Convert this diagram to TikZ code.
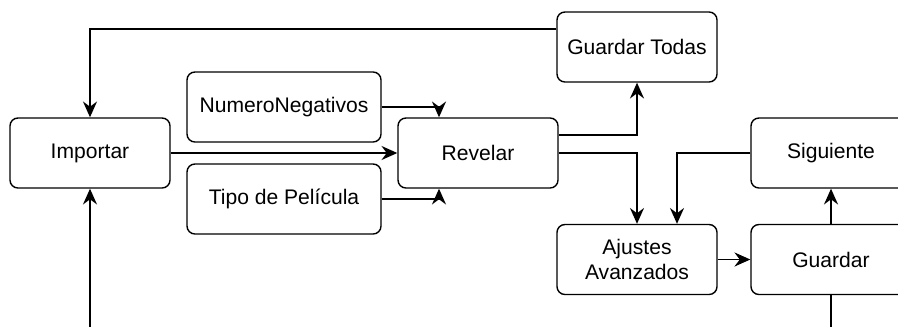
\documentclass[tikz,border=0pt]{standalone}
\usepackage{fontspec}
\setmainfont{Liberation Sans}
\usetikzlibrary{arrows.meta}

\begin{document}
\begin{tikzpicture}[-{Stealth[length=9pt,width=8pt,inset=3pt]}, line width=0.8pt,
    box/.style={draw, rounded corners=4.5pt, minimum width=3.2cm, minimum height=1.4cm,
        align=center, font=\fontsize{12}{14}\selectfont},
    hv/.style={to path={-| (\tikztotarget)}}]
            \useasboundingbox (-1.8,-3.46) rectangle (16.16,3.06);
            \clip (-1.8,-3.46) rectangle (16.16,3.06);

            \node[box] (1) {Importar};
            \node[box, minimum width=3.88cm] (2) [right of=1, node distance=3.88cm, yshift=0.92cm] {NumeroNegativos};
            \node[box, minimum width=3.88cm] (3) [right of=1, node distance=3.88cm, yshift=-0.92cm] {Tipo de Película};
            \node[box] (4) [right of=1, node distance=7.76cm] {Revelar};
            \node[box] (5) [right of=4, node distance=3.18cm, yshift=2.12cm] {Guardar Todas};
            \node[box] (6) [right of=4, node distance=3.18cm, yshift=-2.13cm] {Ajustes\\Avanzados};
            \node[box] (7) [right of=4, node distance=7.06cm] {Siguiente};
            \node[box] (8) [below of=7, node distance=2.13cm] {Guardar};
            \coordinate (9) at ([yshift=-1cm]8.south);

            \path
            (1) edge (4)
            ([yshift=0.36cm]5.west) edge[hv] (1)
            (2) edge[hv] ([xshift=-0.78cm]4.north)
            (3) edge[hv] ([xshift=-0.78cm]4.south)
            ([yshift=0.36cm]4.east) edge[hv] (5)
            (4) edge[hv] (6)
            (7) edge[hv] ([xshift=0.8cm]6.north)
            (6) edge (8)
            (8) edge (7);
            \draw (8) |- (9) -| (1);

        \end{tikzpicture}
\end{document}
